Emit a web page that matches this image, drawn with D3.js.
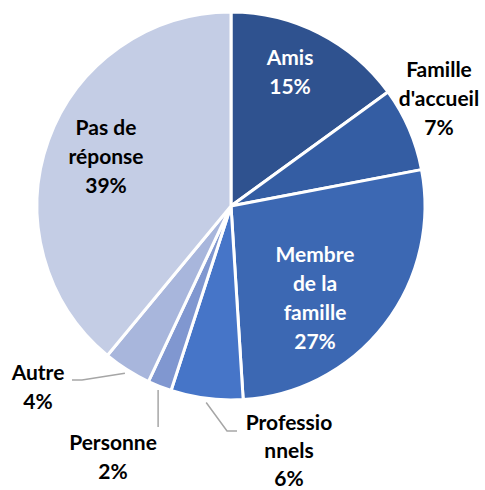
<!DOCTYPE html>
<html>
<head>
  <meta charset="utf-8">
  <script src="https://d3js.org/d3.v7.min.js"></script>
  <style>
    body { margin: 0; background: #fff; }
    .lbl { font-family: Lato, "Open Sans", sans-serif; font-weight: 700; font-size: 21px; text-anchor: middle; }
    .leader { fill: none; stroke: #a6a6a6; stroke-width: 1.5; }
  </style>
</head>
<body>
  <div id="chart"></div>
  <script>
    // data
    const categories = ["Amis", "Famille d'accueil", "Membre de la famille", "Professionnels", "Personne", "Autre", "Pas de réponse"];
    const values = [15, 7, 27, 6, 2, 4, 39];
    const colors = ["#2f528f", "#345da3", "#3c68b3", "#4675c8", "#8097d0", "#a8b6dc", "#c4cde5"];
    const labelLines = [["Amis"], ["Famille", "d'accueil"], ["Membre", "de la", "famille"], ["Professio", "nnels"], ["Personne"], ["Autre"], ["Pas de", "réponse"]];
    const labelColors = ["#fff", "#000", "#fff", "#000", "#000", "#000", "#000"];

    const width = 485, height = 490;
    const cx = 231, cy = 206, radius = 194;
    const lineH = 29;

    // label anchor (centre x, first baseline y), relative to pie centre
    const labelPos = [[59, -141], [208, -129], [84, 56], [58, 224], [-118, 244], [-193, 174], [-125, -71]];
    const labelLineH = [29, 29, 29, 28, 29, 29, 29];
    // leader lines for outside labels: extra points after the arc start
    const leaders = {
      3: [[-4, 225], [6, 225]],
      4: [[-73, 221]],
      5: [[-149, 174], [-159, 174]]
    };

    const svg = d3.select("#chart").append("svg")
      .attr("width", width)
      .attr("height", height);

    const g = svg.append("g").attr("transform", `translate(${cx},${cy})`);

    const pie = d3.pie().sort(null).value(d => d)(values);
    const arc = d3.arc().innerRadius(0).outerRadius(radius);
    const edge = d3.arc().innerRadius(radius + 4).outerRadius(radius + 4);

    g.selectAll("path.slice")
      .data(pie)
      .join("path")
        .attr("class", "slice")
        .attr("d", arc)
        .attr("fill", (d, i) => colors[i])
        .attr("stroke", "#fff")
        .attr("stroke-width", 3)
        .attr("stroke-linejoin", "round");

    // leader lines
    Object.keys(leaders).forEach(k => {
      const i = +k;
      const start = edge.centroid(pie[i]);
      const pts = [start].concat(leaders[k].map(p => k == 4 ? [start[0], p[1]] : p));
      g.append("path")
        .attr("class", "leader")
        .attr("d", d3.line()(pts));
    });

    const total = d3.sum(values);
    const fmt = d3.format(".0%");

    pie.forEach((d, i) => {
      const lines = labelLines[i].concat([fmt(values[i] / total)]);
      const t = g.append("text")
        .attr("class", "lbl")
        .attr("fill", labelColors[i]);
      lines.forEach((s, j) => {
        t.append("tspan")
          .attr("x", labelPos[i][0])
          .attr("y", labelPos[i][1] + j * labelLineH[i])
          .text(s);
      });
    });
  </script>
</body>
</html>
